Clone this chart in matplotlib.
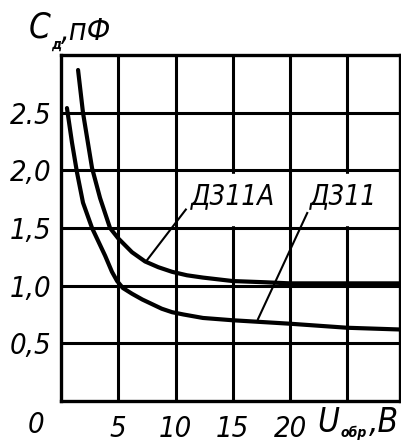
import matplotlib.pyplot as plt
from matplotlib.patches import Rectangle

# Д311А (upper curve) and Д311 (lower curve), C in pF vs reverse voltage U in V
u_d311a = [1.49, 1.92, 2.71, 3.41, 4.28, 5.0, 6.2, 7.34, 8.5, 9.7, 11.0, 12.4, 15, 17.7, 20, 25, 29.6]
c_d311a = [2.87, 2.50, 2.02, 1.76, 1.50, 1.41, 1.29, 1.21, 1.16, 1.12, 1.09, 1.07, 1.04, 1.03, 1.02, 1.02, 1.02]

u_d311 = [0.52, 0.96, 1.4, 1.92, 2.71, 3.85, 4.45, 4.9, 5.4, 6.2, 7.1, 7.95, 8.8, 9.7, 10.7, 12.4, 15, 20, 25, 29.6]
c_d311 = [2.54, 2.24, 1.98, 1.72, 1.50, 1.26, 1.12, 1.04, 0.98, 0.93, 0.88, 0.84, 0.80, 0.77, 0.75, 0.72, 0.70, 0.67, 0.635, 0.62]

x_ticks = [5, 10, 15, 20]
x_labels = ['5', '10', '15', '20']
y_ticks = [0.5, 1.0, 1.5, 2.0, 2.5]
y_labels = ['0,5', '1,0', '1,5', '2,0', '2.5']

W, H = 401, 447
FONT = ['DejaVu Sans']


def px(x, y):
    return x / W, 1 - y / H


fig = plt.figure(figsize=(W / 100, H / 100), dpi=100)
l, b = px(61, 401)
r, t = px(400, 55)
ax = fig.add_axes([l, b, r - l, t - b])
ax.set_xlim(0, 29.6)
ax.set_ylim(0, 3.0)

# grid
for x in [5, 10, 15, 20, 25]:
    ax.axvline(x, color='black', lw=2.2, zorder=1)
for y in [0.5, 1.0, 1.5, 2.0, 2.5]:
    ax.axhline(y, color='black', lw=2.2, zorder=1)
for s in ax.spines.values():
    s.set_linewidth(2.4)

# white boxes behind the labels
ax.add_patch(Rectangle((10.35, 1.53), 9.3, 0.44, color='white', zorder=2))
ax.add_patch(Rectangle((20.35, 1.53), 9.3, 0.44, color='white', zorder=2))

ax.plot(u_d311a, c_d311a, color='black', lw=3.0, zorder=4,
        solid_capstyle='round', solid_joinstyle='round')
ax.plot(u_d311, c_d311, color='black', lw=3.0, zorder=4,
        solid_capstyle='round', solid_joinstyle='round')

# leader lines
ax.plot([7.5, 10.9], [1.22, 1.66], color='black', lw=1.5, zorder=3)
ax.plot([17.2, 21.5], [0.71, 1.63], color='black', lw=1.5, zorder=3)

txt = dict(family=FONT, style='italic', stretch='condensed', fontsize=21, color='black')
ax.text(15.0, 1.78, 'Д311А', ha='center', va='center', zorder=5, **dict(txt, fontsize=20))
ax.text(24.7, 1.78, 'Д311', ha='center', va='center', zorder=5, **dict(txt, fontsize=20))

ax.set_xticks(x_ticks)
ax.set_xticklabels(x_labels, **txt)
ax.set_yticks(y_ticks)
ax.set_yticklabels(y_labels, **txt)
ax.tick_params(length=0, pad=7)
ax.tick_params(axis='x', pad=10)

fig.text(*px(36, 425), '0', ha='center', va='center', **txt)
fig.text(*px(317, 423), 'U', ha='left', va='center', **dict(txt, fontsize=24))
fig.text(*px(341, 433), 'обр', ha='left', va='center', **dict(txt, fontsize=10, weight='bold'))
fig.text(*px(369, 423), ',B', ha='left', va='center', **dict(txt, fontsize=24))

fig.text(*px(29, 28), 'C', ha='left', va='center', **dict(txt, fontsize=25))
fig.text(*px(51, 45), 'д', ha='left', va='center', **dict(txt, fontsize=10, weight='bold'))
fig.text(*px(61, 31), ',пФ', ha='left', va='center', **dict(txt, fontsize=22))

fig.savefig('out.png', dpi=100)
